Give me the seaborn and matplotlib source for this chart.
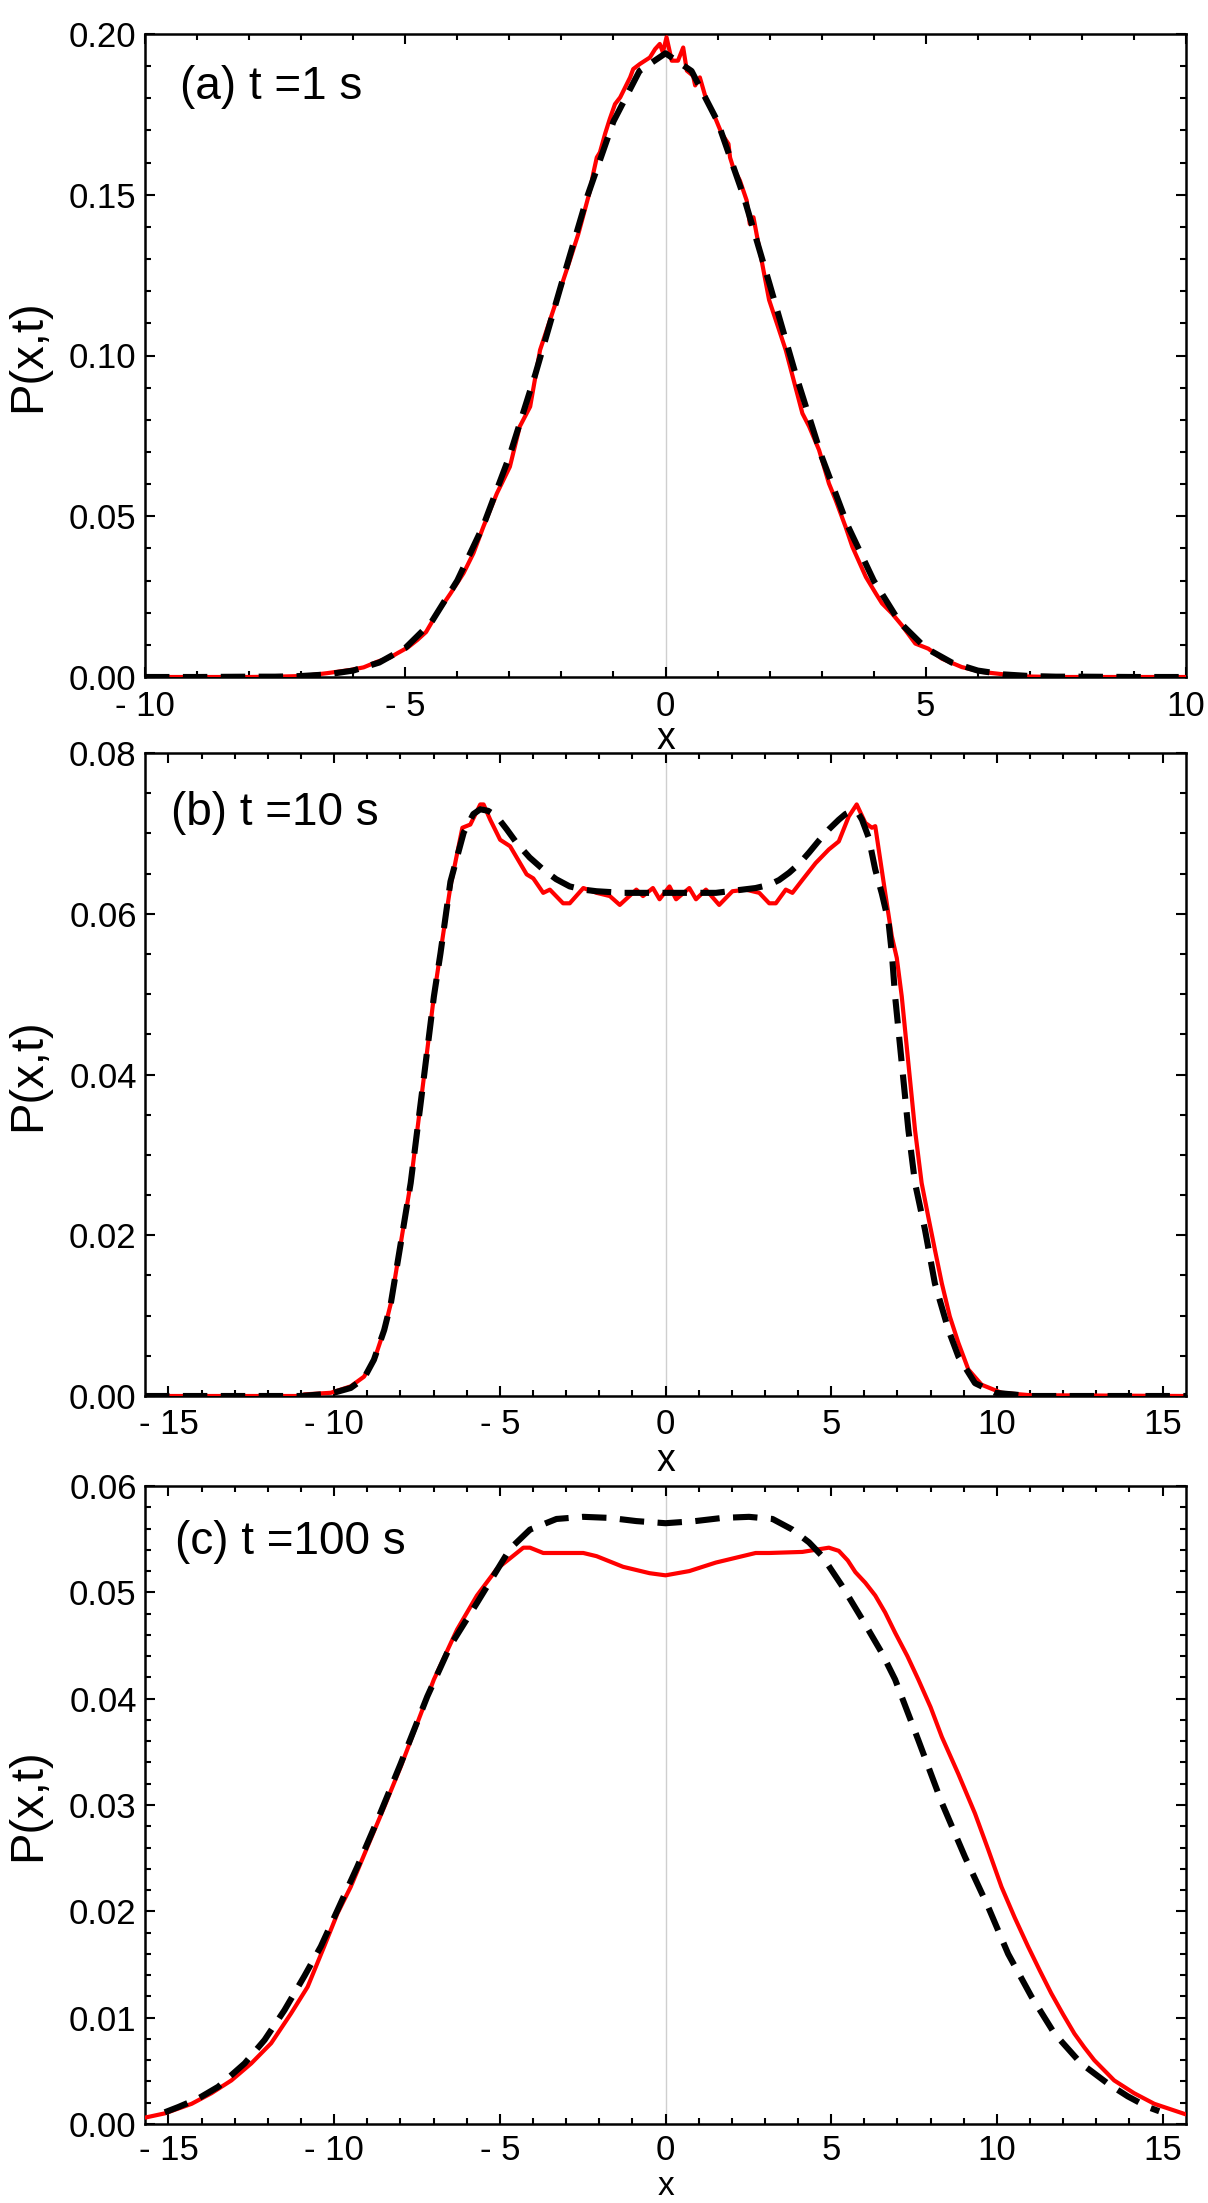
import numpy as np
import pandas as pd
import matplotlib
matplotlib.use("Agg")
import matplotlib.pyplot as plt
import seaborn as sns
from matplotlib.ticker import MultipleLocator

sns.set_theme(style="ticks")
plt.rcParams['font.family'] = ['Liberation Sans', 'DejaVu Sans']

# ---------------- Panel (a): t = 1 s ----------------
a_exp_x = [-10, -8, -7.5, -7.0, -6.81, -6.5, -6.05, -5.8, -5.53, -5.3, -5.15, -4.95, -4.77,
           -4.6, -4.39, -4.13, -3.88, -3.69, -3.50, -3.24, -2.99, -2.80, -2.60, -2.41, -2.09,
           -1.85, -1.675, -1.45, -1.39, -1.32, -1.26, -1.16, -1.07, -0.97, -0.87, -0.68, -0.62,
           -0.49, -0.30, -0.20, -0.11, -0.05, 0.02, 0.12, 0.24, 0.34, 0.41, 0.53, 0.57, 0.66,
           0.79, 0.89, 0.95, 1.08, 1.21, 1.24, 1.30, 1.43, 1.56, 1.62, 1.69, 1.75, 1.99, 2.31,
           2.63, 2.76, 2.95, 3.14, 3.27, 3.46, 3.59, 3.85, 4.04, 4.16, 4.35, 4.54, 4.80, 5.05,
           5.31, 5.69, 6.07, 6.84, 7.5, 10]
a_exp_y = [0, 0, 0.0001, 0.0003, 0.0006, 0.0012, 0.0022, 0.0030, 0.0048, 0.0060, 0.0074,
           0.0092, 0.0115, 0.0140, 0.0198, 0.0260, 0.0323, 0.0385, 0.0467, 0.0571, 0.0654,
           0.0779, 0.0841, 0.1017, 0.1173, 0.1290, 0.1378, 0.1513, 0.1565, 0.1616, 0.1632,
           0.1690, 0.1736, 0.1782, 0.1803, 0.1865, 0.1891, 0.1907, 0.1927, 0.1953, 0.1969,
           0.1943, 0.1990, 0.1917, 0.1917, 0.1958, 0.1886, 0.1870, 0.1840, 0.1865, 0.1792,
           0.1761, 0.1741, 0.1690, 0.1658, 0.1616, 0.1585, 0.1544, 0.1482, 0.1409, 0.1430,
           0.1378, 0.1173, 0.1017, 0.0820, 0.0779, 0.0706, 0.0602, 0.0550, 0.0467, 0.0405,
           0.0311, 0.0260, 0.0229, 0.0198, 0.0161, 0.0104, 0.0088, 0.0057, 0.0031, 0.0016,
           0.0002, 0, 0]
a_th_x = [-10, -9, -8, -7.5, -7, -6.5, -6, -5.5, -5, -4.5, -4, -3.5, -3, -2.5, -2, -1.5, -1,
          -0.5, 0, 0.5, 1, 1.5, 2, 2.5, 3, 3.5, 4, 4.5, 5, 5.5, 6, 6.5, 7, 7.5, 8, 9, 10]
a_th_y = [0, 0, 0.0001, 0.0001, 0.0003, 0.0008, 0.0020, 0.0045, 0.0090, 0.0170, 0.0300,
          0.0471, 0.0686, 0.0942, 0.1222, 0.1496, 0.1728, 0.1885, 0.1940, 0.1885, 0.1728,
          0.1496, 0.1222, 0.0942, 0.0686, 0.0471, 0.0300, 0.0170, 0.0090, 0.0045, 0.0020,
          0.0008, 0.0003, 0.0001, 0.0001, 0, 0]

# ---------------- Panel (b): t = 10 s ----------------
b_exp_x = [-15.708, -11, -10.9, -10.1, -9.5, -9.1, -8.79, -8.49, -8.29, -8.09, -7.89, -7.69,
           -7.49, -7.29, -6.99, -6.69, -6.49, -6.13, -5.89, -5.59, -5.49, -5.29, -4.99, -4.69,
           -4.39, -4.19, -3.99, -3.69, -3.49, -3.09, -2.89, -2.48, -2.08, -1.68, -1.38, -0.88,
           -0.68, -0.38, -0.18, 0.12, 0.32, 0.72, 0.92, 1.22, 1.62, 2.02, 2.42, 2.83, 3.13,
           3.33, 3.63, 3.83, 4.13, 4.53, 4.93, 5.23, 5.53, 5.77, 6.03, 6.23, 6.33, 6.63, 6.83,
           6.98, 7.13, 7.33, 7.53, 7.73, 7.93, 8.13, 8.34, 8.58, 8.84, 9.14, 9.54, 10.14, 11,
           15.708]
b_exp_y = [0, 0, 0.0002, 0.0004, 0.0012, 0.0024, 0.0045, 0.0082, 0.0115, 0.0165, 0.0215,
           0.0265, 0.0331, 0.0397, 0.0497, 0.0580, 0.0634, 0.0707, 0.0711, 0.0736, 0.0736,
           0.0717, 0.0692, 0.0684, 0.0663, 0.0649, 0.0644, 0.0626, 0.0630, 0.0613, 0.0613,
           0.0632, 0.0626, 0.0622, 0.0611, 0.0630, 0.0622, 0.0632, 0.0618, 0.0634, 0.0618,
           0.0632, 0.0618, 0.0630, 0.0611, 0.0628, 0.0630, 0.0626, 0.0613, 0.0613, 0.0630,
           0.0626, 0.0642, 0.0663, 0.0680, 0.0690, 0.0721, 0.0736, 0.0713, 0.0707, 0.0709,
           0.0626, 0.0572, 0.0545, 0.0497, 0.0414, 0.0331, 0.0265, 0.0223, 0.0182, 0.0140,
           0.0099, 0.0066, 0.0033, 0.0014, 0.0004, 0.0001, 0]
b_th_x = [-15.708, -11, -10.1, -9.5, -9.1, -8.8, -8.49, -8.29, -8.09, -7.89, -7.69, -7.49,
          -7.29, -6.99, -6.79, -6.49, -6.09, -5.8, -5.59, -5.35, -5.09, -4.79, -4.49, -4.1,
          -3.69, -3.3, -2.89, -2.48, -2.08, -1.28, 0, 1.52, 2.32, 2.72, 3.13, 3.43, 3.73,
          4.03, 4.33, 4.63, 4.93, 5.23, 5.43, 5.63, 5.83, 5.93, 6.13, 6.33, 6.53, 6.73, 6.83,
          6.93, 7.13, 7.33, 7.53, 7.83, 8.13, 8.54, 8.84, 9.34, 9.94, 11, 15.708]
b_th_y = [0, 0, 0.0003, 0.0010, 0.0022, 0.0045, 0.0082, 0.0115, 0.0165, 0.0215, 0.0265,
          0.0331, 0.0397, 0.0497, 0.0551, 0.0640, 0.0701, 0.0724, 0.0730, 0.0728, 0.0721,
          0.0705, 0.0688, 0.0670, 0.0655, 0.0643, 0.0634, 0.0630, 0.0628, 0.0626, 0.0626,
          0.0626, 0.0630, 0.0632, 0.0636, 0.0642, 0.0651, 0.0662, 0.0676, 0.0691, 0.0705,
          0.0717, 0.0724, 0.0728, 0.0724, 0.0717, 0.0695, 0.0655, 0.0625, 0.0590, 0.0551,
          0.0497, 0.0414, 0.0331, 0.0265, 0.0207, 0.0140, 0.0082, 0.0049, 0.0016, 0.0004,
          0, 0]

# ---------------- Panel (c): t = 100 s ----------------
c_exp_x = [-15.708, -15.11, -14.3, -13.7, -13.1, -12.5, -11.9, -11.3, -10.8, -10.3, -9.9,
           -9.5, -8.99, -8.49, -7.99, -7.49, -6.99, -6.29, -5.69, -5.09, -4.49, -4.29, -4.09,
           -3.69, -3.29, -2.48, -2.08, -1.68, -1.28, -0.48, 0, 0.72, 1.52, 2.32, 2.72, 3.13,
           4.13, 4.53, 4.93, 5.23, 5.5, 5.73, 6.03, 6.33, 6.63, 6.93, 7.3, 7.63, 8.0, 8.34,
           8.84, 9.34, 9.74, 10.14, 10.54, 10.94, 11.3, 11.64, 12.0, 12.34, 12.64, 12.94,
           13.54, 14.14, 14.75, 15.708]
c_exp_y = [0.0006, 0.0010, 0.0019, 0.0029, 0.0041, 0.0057, 0.0076, 0.0104, 0.0129, 0.0167,
           0.0198, 0.0223, 0.0261, 0.0298, 0.0336, 0.0377, 0.0418, 0.0465, 0.0497, 0.0522,
           0.0537, 0.0542, 0.0542, 0.0537, 0.0537, 0.0537, 0.0534, 0.0529, 0.0524, 0.0518,
           0.0516, 0.0520, 0.0528, 0.0534, 0.0537, 0.0537, 0.0538, 0.0540, 0.0542, 0.0539,
           0.0530, 0.0519, 0.0509, 0.0497, 0.0481, 0.0462, 0.0440, 0.0418, 0.0392, 0.0364,
           0.0329, 0.0292, 0.0258, 0.0223, 0.0194, 0.0167, 0.0144, 0.0123, 0.0103, 0.0085,
           0.0072, 0.0060, 0.0041, 0.0029, 0.0019, 0.0009]
c_th_x = [-15.11, -14.7, -14.1, -13.5, -12.7, -12.1, -11.5, -10.9, -10.4, -9.9, -9.3, -8.69,
          -7.99, -7.19, -6.49, -5.69, -4.69, -4.09, -3.29, -2.48, -1.68, -0.88, 0, 0.9, 1.72,
          2.52, 3.23, 3.83, 4.33, 4.73, 5.33, 5.93, 6.53, 6.93, 7.63, 8.34, 9.04, 9.74,
          10.34, 11.04, 11.74, 12.54, 13.35, 13.95, 14.55, 14.9]
c_th_y = [0.0011, 0.0016, 0.0024, 0.0035, 0.0057, 0.0079, 0.0107, 0.0139, 0.0167, 0.0201,
          0.0242, 0.0286, 0.0339, 0.0402, 0.0450, 0.0490, 0.0541, 0.0559, 0.0569, 0.0571,
          0.0570, 0.0567, 0.0565, 0.0567, 0.0570, 0.0571, 0.0569, 0.0559, 0.0547, 0.0534,
          0.0506, 0.0475, 0.0443, 0.0418, 0.0361, 0.0302, 0.0251, 0.0204, 0.0160, 0.0120,
          0.0085, 0.0057, 0.0038, 0.0026, 0.0016, 0.0012]

panel_labels = ["(a) t =1 s", "(b) t =10 s", "(c) t =100 s"]
a_xticks = [-10, -5, 0, 5, 10]
bc_xticks = [-15, -10, -5, 0, 5, 10, 15]

def fmt_x(v):
    return f"- {abs(v)}" if v < 0 else f"{v}"

RED = "#ff0000"
fig = plt.figure(figsize=(12.08, 22.03), dpi=100)
W = 1208.0
H = 2203.0
boxes = [(145, 34, 1186, 677), (145, 753, 1186, 1396), (145, 1486, 1186, 2124)]
axs = []
for (l, t, r, b) in boxes:
    axs.append(fig.add_axes([l / W, 1 - b / H, (r - l) / W, (b - t) / H]))

specs = [
    dict(ex=a_exp_x, ey=a_exp_y, tx=a_th_x, ty=a_th_y, xlim=(-10, 10), ylim=(0, 0.20),
         xt=a_xticks, yt=[0, 0.05, 0.10, 0.15, 0.20], ymin=0.01, lab=panel_labels[0],
         lpos=(0.034, 0.899), xlab_y=-0.097, xlab_va="center", xpad=9, xlab_fs=27),
    dict(ex=b_exp_x, ey=b_exp_y, tx=b_th_x, ty=b_th_y, xlim=(-5 * np.pi, 5 * np.pi),
         ylim=(0, 0.08), xt=bc_xticks, yt=[0, 0.02, 0.04, 0.06, 0.08], ymin=0.005,
         lab=panel_labels[1], lpos=(0.025, 0.888), xlab_y=-0.101, xlab_va="center",
         xpad=9, xlab_fs=27),
    dict(ex=c_exp_x, ey=c_exp_y, tx=c_th_x, ty=c_th_y, xlim=(-5 * np.pi, 5 * np.pi),
         ylim=(0, 0.06), xt=bc_xticks, yt=[0, 0.01, 0.02, 0.03, 0.04, 0.05, 0.06],
         ymin=0.002, lab=panel_labels[2], lpos=(0.029, 0.893), xlab_y=-0.1223,
         xlab_va="bottom", xpad=7, xlab_fs=24),
]

for ax, s in zip(axs, specs):
    ax.patch.set_visible(False)
    ax.axvline(0, color="#cfcfcf", lw=1.0, zorder=0.5)
    df_e = pd.DataFrame({"x": s["ex"], "P": s["ey"]})
    df_t = pd.DataFrame({"x": s["tx"], "P": s["ty"]})
    sns.lineplot(data=df_e, x="x", y="P", ax=ax, color=RED, linewidth=3.0,
                 estimator=None, sort=False, legend=False, zorder=3)
    sns.lineplot(data=df_t, x="x", y="P", ax=ax, color="black", linewidth=4.4,
                 linestyle=(0, (4.0, 2.2)), estimator=None, sort=False, legend=False,
                 zorder=4)
    ax.set_xlim(*s["xlim"])
    ax.set_ylim(*s["ylim"])
    ax.set_xticks(s["xt"], [fmt_x(v) for v in s["xt"]])
    ax.set_yticks(s["yt"], [f"{v:.2f}" for v in s["yt"]])
    ax.xaxis.set_minor_locator(MultipleLocator(1))
    ax.yaxis.set_minor_locator(MultipleLocator(s["ymin"]))
    ax.tick_params(which="both", direction="in", top=True, right=True, width=1.5,
                   color="black", labelsize=25, labelcolor="black")
    ax.tick_params(which="major", length=7)
    ax.tick_params(which="minor", length=4.5)
    ax.tick_params(axis="x", which="major", pad=s["xpad"])
    ax.tick_params(axis="y", which="major", pad=6)
    for sp in ax.spines.values():
        sp.set_linewidth(1.8)
        sp.set_color("black")
        sp.set_visible(True)
    ax.set_xlabel("x", fontsize=s["xlab_fs"], color="black")
    ax.set_ylabel("P(x,t)", fontsize=34, color="black")
    ax.xaxis.set_label_coords(0.5, s["xlab_y"])
    ax.yaxis.set_label_coords(-0.112, 0.5)
    ax.xaxis.label.set_va(s["xlab_va"])
    ax.yaxis.label.set_va("center")
    ax.text(s["lpos"][0], s["lpos"][1], s["lab"], transform=ax.transAxes, fontsize=33,
            ha="left", va="baseline", color="black")

fig.patch.set_facecolor("white")
fig.savefig("out.png", dpi=100, facecolor="white")
